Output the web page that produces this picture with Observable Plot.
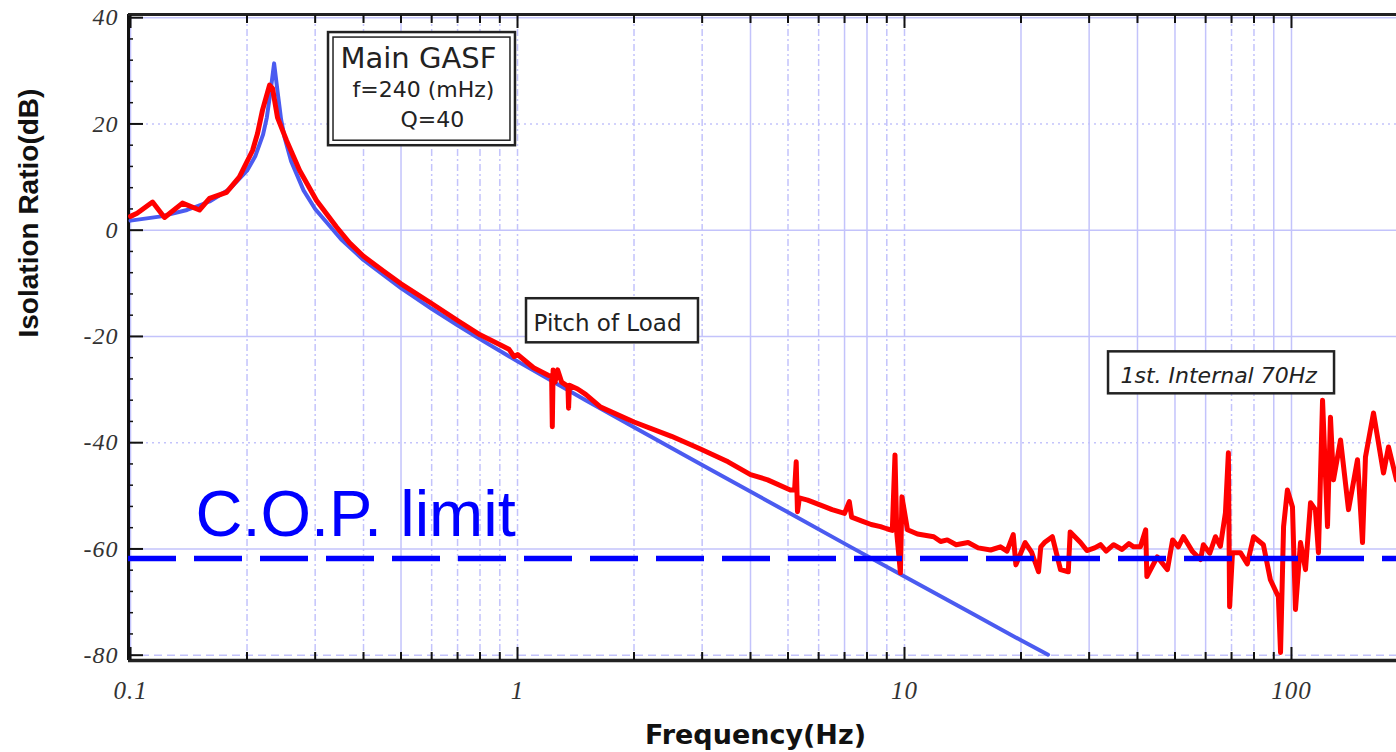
<!DOCTYPE html>
<html><head><meta charset="utf-8">
<script src="https://cdn.jsdelivr.net/npm/d3@7"></script>
<script src="https://cdn.jsdelivr.net/npm/@observablehq/plot@0.6"></script>
<style>html,body{margin:0;padding:0;background:#fff;} #chart svg{display:block;}</style>
</head><body><div id="chart"></div>
<script>
// ---- model (theoretical transfer function) ----
const modelFreq = [0.1, 0.12, 0.14, 0.16, 0.18, 0.2, 0.21, 0.22, 0.225, 0.23, 0.235, 0.24, 0.245, 0.25, 0.26, 0.28, 0.3, 0.35, 0.4, 0.5, 0.6, 0.7, 0.8, 1, 1.5, 2, 3, 5, 7, 10, 15, 20, 23.5];
const modelDb   = [1.8, 2.6, 3.8, 5.4, 7.7, 11.2, 13.9, 18.0, 21.2, 26.1, 31.4, 25.9, 20.8, 17.5, 13.0, 7.5, 4.0, -1.7, -5.6, -10.9, -14.8, -17.9, -20.5, -24.7, -32.0, -37.1, -44.2, -53.1, -59.0, -65.2, -72.2, -77.2, -79.9];

// ---- measured isolation ratio (red curve) ----
const measFreq = [0.1, 0.104, 0.114, 0.1224, 0.1362, 0.1507, 0.16, 0.177, 0.191, 0.2067, 0.2129, 0.2193, 0.2287, 0.2328, 0.2398, 0.253, 0.2733, 0.3024, 0.3406, 0.368, 0.4, 0.45, 0.5, 0.6, 0.7, 0.8, 0.904, 0.95, 0.98, 1.0, 1.1, 1.2, 1.225, 1.23, 1.236, 1.25, 1.27, 1.3, 1.35, 1.355, 1.362, 1.43, 1.5, 1.64, 2.0, 2.5, 2.97, 3.5, 4.0, 4.43, 5.07, 5.2, 5.25, 5.29, 5.35, 5.62, 6.0, 6.5, 7.0, 7.2, 7.3, 7.8, 8.2, 8.67, 9.0, 9.3, 9.45, 9.55, 9.76, 9.85, 10.18, 10.8, 11.9, 12.4, 12.9, 13.6, 14.6, 15.5, 16.7, 17.7, 18.4, 19.1, 19.4, 20.5, 21.3, 22.2, 22.5, 23.0, 24.1, 25.3, 26.5, 26.8, 28.5, 29.6, 31.0, 32.1, 33.2, 34.7, 36.5, 38.0, 39.1, 40.7, 42.0, 42.3, 45.0, 47.8, 49.3, 51.0, 52.6, 55.5, 58.2, 59.2, 61.5, 63.6, 65.5, 67.5, 68.7, 69.2, 70.4, 73.8, 76.9, 79.8, 84.6, 88.2, 92.5, 93.7, 95.4, 97.6, 100.6, 102.4, 105.5, 108.7, 112.0, 115.3, 117.4, 120.3, 123.9, 126.1, 128.4, 133.9, 140.4, 148.1, 152.6, 155.3, 162.9, 172.9, 178.1, 186.8];
const measDb   = [2.6, 3.2, 5.3, 2.4, 5.1, 3.8, 6.0, 7.1, 10.0, 15.0, 18.2, 22.6, 27.3, 26.7, 21.2, 16.9, 11.3, 5.6, 0.6, -2.4, -4.9, -7.7, -10.1, -13.8, -17.0, -19.7, -21.6, -22.4, -23.8, -23.4, -25.9, -27.3, -27.6, -37.0, -26.3, -28.6, -26.3, -28.6, -29.4, -33.5, -29.2, -29.9, -30.9, -33.3, -36.1, -38.8, -41.2, -43.6, -46.0, -47.0, -48.9, -48.9, -43.6, -53.0, -50.4, -50.8, -51.6, -52.6, -53.3, -51.1, -54.0, -54.8, -55.4, -55.8, -56.2, -56.5, -42.3, -57.0, -64.5, -50.2, -56.4, -57.2, -57.7, -58.6, -58.3, -59.2, -58.8, -59.8, -60.2, -59.6, -60.4, -57.3, -63.0, -58.8, -60.6, -64.3, -59.6, -58.8, -57.7, -63.9, -64.3, -56.8, -58.8, -60.3, -59.8, -59.2, -60.4, -59.2, -60.1, -59.0, -59.6, -59.6, -56.4, -65.2, -61.5, -63.9, -58.3, -59.6, -57.7, -60.5, -62.0, -59.2, -60.8, -57.7, -59.5, -53.2, -41.9, -70.9, -60.7, -60.7, -62.8, -57.7, -59.2, -65.8, -69.0, -79.5, -55.8, -48.9, -52.1, -71.4, -58.8, -63.9, -51.3, -52.6, -60.7, -32.0, -55.8, -35.2, -47.0, -39.5, -52.6, -43.2, -58.8, -42.7, -34.4, -45.7, -40.8, -47.0];

// ---- limit ----
const copLimit = -61.8;

// ---- axes ----
const xDomain = [0.0988, 186.8];
const yDomain = [-81, 40.6];
const xTickValues = [0.1, 1, 10, 100];
const xTickLabels = ["0.1", "1", "10", "100"];
const xMinorTicks = [0.2,0.3,0.4,0.5,0.6,0.7,0.8,0.9,2,3,4,5,6,7,8,9,20,30,40,50,60,70,80,90];
const yTickValues = [40, 20, 0, -20, -40, -60, -80];
const yTickLabels = ["40", "20", "0", "-20", "-40", "-60", "-80"];
const yMinorTicks = d3.range(-76, 40, 4).filter(v => v % 20 !== 0);
const xGridSolid = [0.1, 0.5, 4, 7, 8, 20, 30, 40, 50, 60, 90, 100];
const xGridDashed = [0.2, 0.3, 0.4, 0.6, 0.7, 0.8, 0.9, 1, 2, 3, 5, 6, 9, 10, 70, 80];
const yGridSolid = [40, 0, -20, -60];
const yGridDotted = [20, -40];
const yGridDashed = [-80];

// ---- annotations (anchors in data units) ----
const gasfLines = ["Main GASF", "f=240 (mHz)", "Q=40"];
const gasfFreq = [0.3488, 0.3748, 0.4985];
const gasfDb = [30.6, 25.0, 19.5];
const boxes = [
  {name: "gasf", x1: 0.3248, x2: 0.988, y1: 15.9, y2: 37.2},
  {name: "pitch", x1: 1.055, x2: 2.935, y1: -21.2, y2: -12.9},
  {name: "internal", x1: 33.67, x2: 129.2, y1: -30.8, y2: -22.9}
];
const pitchLabel = "Pitch of Load";
const pitchFreq = 1.0999, pitchDb = -18.9;
const internalLabel = "1st. Internal 70Hz";
const internalFreq = 36.15, internalDb = -28.7;
const copLabel = "C.O.P. limit";
const copLabelFreq = 0.1472;
const copLabelDb = -57.5;

const model = modelFreq.map((f, i) => ({f, db: modelDb[i]}));
const meas = measFreq.map((f, i) => ({f, db: measDb[i]}));

const gridColor = "#c3c3fb";
const tickFont = {fontFamily: "Liberation Serif", fontStyle: "italic", fill: "#333"};
const noteFont = {textAnchor: "start", lineAnchor: "bottom", fill: "#222", fontFamily: "DejaVu Sans"};

const chart = Plot.plot({
  width: 1396, height: 752,
  marginLeft: 128, marginRight: 0, marginTop: 14, marginBottom: 92,
  x: {type: "log", domain: xDomain, axis: null},
  y: {domain: yDomain, axis: null},
  style: {background: "white", overflow: "visible"},
  marks: [
    Plot.gridX(xGridSolid, {stroke: gridColor, strokeOpacity: 1, strokeWidth: 1.5}),
    Plot.gridX(xGridDashed, {stroke: gridColor, strokeOpacity: 1, strokeWidth: 1.5, strokeDasharray: "7,3,2,3"}),
    Plot.gridY(yGridSolid, {stroke: gridColor, strokeOpacity: 1, strokeWidth: 1.5}),
    Plot.gridY(yGridDotted, {stroke: gridColor, strokeOpacity: 1, strokeWidth: 1.5, strokeDasharray: "2,4"}),
    Plot.gridY(yGridDashed, {stroke: gridColor, strokeOpacity: 1, strokeWidth: 1.5, strokeDasharray: "8,5"}),
    // frame lines
    Plot.ruleX([xDomain[0]], {stroke: "#111", strokeWidth: 3}),
    Plot.ruleY([yDomain[0]], {stroke: "#222", strokeWidth: 3.5}),
    Plot.ruleY([yDomain[1]], {stroke: "#222", strokeWidth: 3}),
    // inward ticks
    Plot.axisX(xMinorTicks, {anchor: "bottom", tickSize: -8, fill: "none", stroke: "#111", strokeWidth: 2, label: null}),
    Plot.axisX(xTickValues, {anchor: "bottom", tickSize: -13, fill: "none", stroke: "#111", strokeWidth: 2, label: null}),
    Plot.axisX(xMinorTicks, {anchor: "top", tickSize: -8, fill: "none", stroke: "#111", strokeWidth: 2, label: null}),
    Plot.axisX(xTickValues, {anchor: "top", tickSize: -13, fill: "none", stroke: "#111", strokeWidth: 2, label: null}),
    Plot.axisY(yTickValues, {anchor: "left", tickSize: -15, fill: "none", stroke: "#111", strokeWidth: 2, label: null}),
    Plot.axisY(yMinorTicks, {anchor: "left", tickSize: -5, fill: "none", stroke: "#111", strokeWidth: 1.5, label: null}),
    // tick labels
    Plot.text(xTickValues, {x: d => d, frameAnchor: "bottom", dy: 38, lineAnchor: "bottom", text: (d, i) => xTickLabels[i], fontSize: 25, ...tickFont}),
    Plot.text(yTickValues, {y: d => d, frameAnchor: "left", dx: -10, textAnchor: "end", text: (d, i) => yTickLabels[i], fontSize: 24, ...tickFont}),
    // curves
    Plot.line(model, {x: "f", y: "db", stroke: "#4b5bf0", strokeWidth: 4, strokeLinejoin: "round"}),
    Plot.line(meas, {x: "f", y: "db", stroke: "#ff0000", strokeWidth: 5, strokeLinejoin: "round", strokeLinecap: "round"}),
    // C.O.P. limit
    Plot.ruleY([copLimit], {stroke: "#0000ff", strokeWidth: 5.5, strokeDasharray: "48,18"}),
    Plot.text([copLabel], {x: () => copLabelFreq, y: () => copLabelDb, textAnchor: "start", lineAnchor: "bottom", fill: "#0000ff", fontFamily: "Liberation Sans", fontSize: 65}),
    // annotation boxes
    Plot.rect(boxes, {x1: "x1", x2: "x2", y1: "y1", y2: "y2", fill: "white", stroke: "#222", strokeWidth: 2.5}),
    Plot.rect(boxes.filter(b => b.name === "gasf"), {x1: "x1", x2: "x2", y1: "y1", y2: "y2", inset: 5, fill: "none", stroke: "#222", strokeWidth: 1.5}),
    Plot.text(gasfLines, {x: (d, i) => gasfFreq[i], y: (d, i) => gasfDb[i], text: d => d, fontSize: (d, i) => i === 0 ? 29 : 22, ...noteFont}),
    Plot.text([pitchLabel], {x: () => pitchFreq, y: () => pitchDb, fontSize: 23, ...noteFont}),
    Plot.text([internalLabel], {x: () => internalFreq, y: () => internalDb, fontSize: 22, fontStyle: "italic", ...noteFont}),
    // axis titles
    Plot.text(["Isolation Ratio(dB)"], {frameAnchor: "left", dx: -99, rotate: -90, fontFamily: "Liberation Sans", fontWeight: "bold", fontSize: 28, fill: "#111"}),
    Plot.text(["Frequency(Hz)"], {frameAnchor: "bottom", dx: -7, dy: 83, lineAnchor: "bottom", fontFamily: "DejaVu Sans", fontWeight: "bold", fontSize: 27, fill: "#111"})
  ]
});

d3.select(chart).selectAll("g[font-family='Liberation Serif'] text").attr("letter-spacing", "1px");
document.getElementById("chart").appendChild(chart);
</script>
</body></html>
